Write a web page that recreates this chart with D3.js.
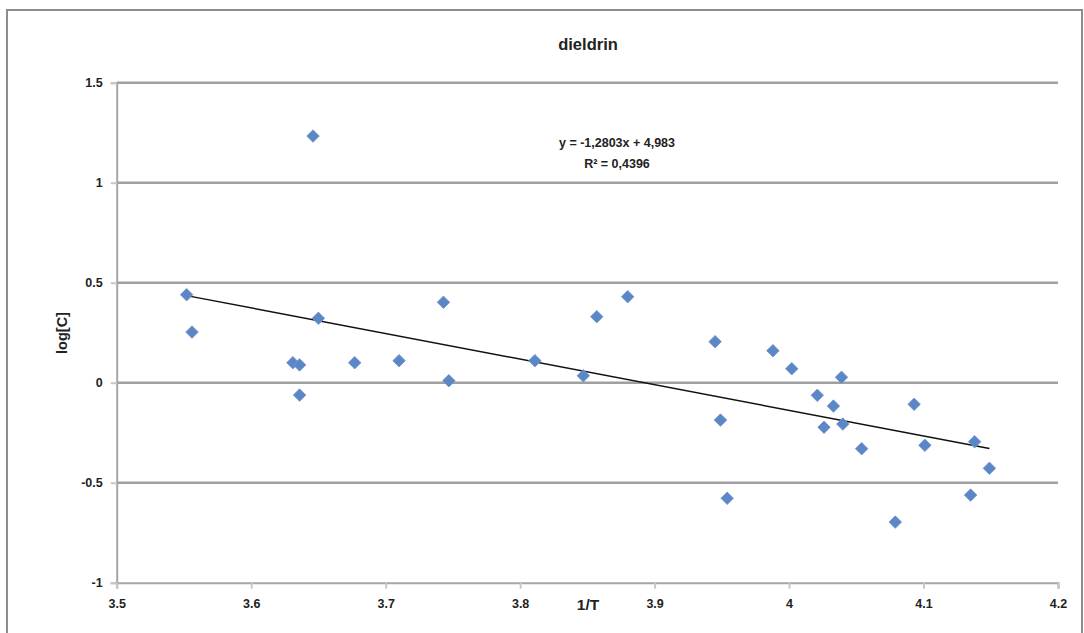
<!DOCTYPE html>
<html><head><meta charset="utf-8">
<script src="https://cdn.jsdelivr.net/npm/d3@7"></script>
<style>
html,body{margin:0;padding:0;background:#fff;}
svg text{font-family:"Liberation Sans","DejaVu Sans",sans-serif;font-weight:bold;fill:#222;}
</style></head>
<body>
<script>
const title = "dieldrin";
const xLabel = "1/T";
const yLabel = "log[C]";
const invT = [3.552,3.556,3.646,3.631,3.636,3.636,3.650,3.677,3.710,3.743,3.747,3.811,3.847,3.857,3.880,3.945,3.949,3.954,3.988,4.002,4.021,4.039,4.033,4.026,4.040,4.054,4.093,4.101,4.079,4.135,4.138,4.149];
const logC = [0.44,0.253,1.233,0.100,0.089,-0.062,0.322,0.100,0.110,0.402,0.010,0.110,0.035,0.330,0.430,0.205,-0.187,-0.578,0.160,0.070,-0.063,0.027,-0.117,-0.223,-0.207,-0.330,-0.108,-0.313,-0.697,-0.562,-0.295,-0.428];
const xTicks = [3.5,3.6,3.7,3.8,3.9,4,4.1,4.2];
const yTicks = [-1,-0.5,0,0.5,1,1.5];
const slope = -1.2803, intercept = 4.983;
const eqLine1 = "y = -1,2803x + 4,983";
const eqLine2 = "R² = 0,4396";

const W = 1084, H = 633;
const L = 116.7, R = 1058, T = 82.7, B = 582.7;
const svg = d3.select("body").append("svg").attr("width", W).attr("height", H);

// chart frame
svg.append("rect").attr("x",7).attr("y",10).attr("width",1075).attr("height",640)
  .attr("fill","#fff").attr("stroke","#8c8c8c").attr("stroke-width",2);

const x = d3.scaleLinear().domain([3.5,4.2]).range([L,R]);
const y = d3.scaleLinear().domain([-1,1.5]).range([B,T]);

// gridlines
svg.append("g").selectAll("line").data(yTicks.filter(v=>v>-1)).join("line")
  .attr("x1",L).attr("x2",R).attr("y1",d=>y(d)).attr("y2",d=>y(d))
  .attr("stroke","#a0a0a0").attr("stroke-width",2.5);

// y axis
const yAxis = d3.axisLeft(y).tickValues(yTicks).tickSize(6).tickPadding(8)
  .tickFormat(d=>String(d));
const gy = svg.append("g").attr("transform",`translate(${L},0)`).call(yAxis);
gy.select(".domain").attr("stroke","#a6a6a6").attr("stroke-width",2);
gy.selectAll(".tick line").attr("stroke","#c8c8c8").attr("stroke-width",2);
gy.selectAll(".tick text").attr("font-size",12.5).attr("fill","#222");

// x axis
const xAxis = d3.axisBottom(x).tickValues(xTicks).tickSize(6).tickPadding(10)
  .tickFormat(d=>String(d));
const gx = svg.append("g").attr("transform",`translate(0,${B})`).call(xAxis);
gx.select(".domain").attr("stroke","#a6a6a6").attr("stroke-width",2);
gx.selectAll(".tick line").attr("stroke","#c8c8c8").attr("stroke-width",2);
gx.selectAll(".tick text").attr("font-size",12.5).attr("fill","#222");

// trendline
const xmin = d3.min(invT), xmax = d3.max(invT);
svg.append("line")
  .attr("x1",x(xmin)).attr("y1",y(slope*xmin+intercept))
  .attr("x2",x(xmax)).attr("y2",y(slope*xmax+intercept))
  .attr("stroke","#111").attr("stroke-width",1.4);

// points
const pts = invT.map((v,i)=>({x:v,y:logC[i]}));
svg.append("g").selectAll("path").data(pts).join("path")
  .attr("d",d3.symbol().type(d3.symbolDiamond2).size(100))
  .attr("transform",d=>`translate(${x(d.x)},${y(d.y)})`)
  .attr("fill","#5b87c6").attr("stroke","#6f93cc").attr("stroke-width",0.8);

// title
svg.append("text").attr("x",588).attr("y",50).attr("text-anchor","middle")
  .attr("font-size",16.5).text(title);

// equation
svg.append("text").attr("x",617).attr("y",147).attr("text-anchor","middle")
  .attr("font-size",12.5).text(eqLine1);
svg.append("text").attr("x",617).attr("y",168).attr("text-anchor","middle")
  .attr("font-size",12.5).text(eqLine2);

// axis labels
svg.append("text").attr("x",588).attr("y",610).attr("text-anchor","middle")
  .attr("font-size",15.5).text(xLabel);
svg.append("text").attr("transform",`translate(67,333) rotate(-90)`)
  .attr("text-anchor","middle").attr("font-size",14.5).text(yLabel);
</script>
</body></html>
